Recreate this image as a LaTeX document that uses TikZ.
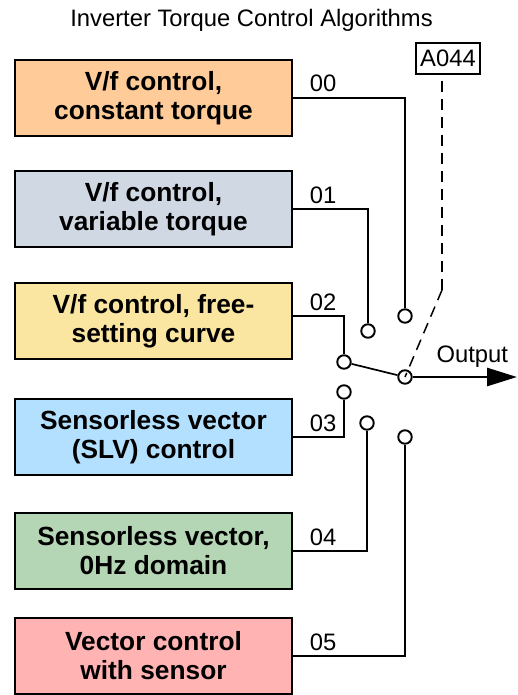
\documentclass[tikz,border=0pt]{standalone}
\usepackage{fontspec}
\setmainfont{Liberation Sans}
\usepackage{tikz}
\usetikzlibrary{arrows.meta,positioning,calc}
\definecolor{AlgOrange}{HTML}{FFCC99}
\definecolor{AlgSlate}{HTML}{D0D8E4}
\definecolor{AlgYellow}{HTML}{FAE6A0}
\definecolor{AlgSky}{HTML}{B3E0FF}
\definecolor{AlgGreen}{HTML}{B4D6B4}
\definecolor{AlgPink}{HTML}{FFB3B3}
\tikzset{
  algbox/.style={draw,line width=2.8pt,minimum width=277pt,minimum height=76pt,
    inner sep=0pt,align=center,font=\bfseries\fontsize{26.3}{29}\selectfont},
  wire/.style={line width=2.8pt},
  thinwire/.style={line width=1.7pt},
  contact/.style={circle,draw,line width=1.9pt,fill=white,minimum size=13.5pt,inner sep=0pt},
  code/.style={anchor=base west},
}

\begin{document}
\begin{tikzpicture}[x=1pt,y=-1pt,font=\fontsize{23.8}{27}\selectfont]
  \useasboundingbox (0,0) rectangle (517,695);
  \node[anchor=base] (title) at (251.5,27) {Inverter Torque Control Algorithms};
  % algorithm boxes
  \node[algbox,fill=AlgOrange] (b0) at (153.5,98)  {V/f control,\\constant torque};
  \node[algbox,fill=AlgSlate]  (b1) at (153.5,209) {V/f control,\\variable torque};
  \node[algbox,fill=AlgYellow] (b2) at (153.5,321) {V/f control, free-\\setting curve};
  \node[algbox,fill=AlgSky]    (b3) at (153.5,437) {Sensorless vector\\(SLV) control};
  \node[algbox,fill=AlgGreen]  (b4) at (153.5,551) {Sensorless vector,\\0Hz domain};
  \node[algbox,fill=AlgPink]   (b5) at (153.5,656) {Vector control\\with sensor};
  % switch contacts
  \node[contact] (c0) at (405,316) {};
  \node[contact] (c1) at (368,331) {};
  \node[contact] (c2) at (344,362) {};
  \node[contact] (c3) at (344,392) {};
  \node[contact] (c4) at (367,423) {};
  \node[contact] (c5) at (405,437) {};
  \node[contact] (cout) at (405,377) {};
  % wiring
  \draw[wire] (b0.east) -| (c0);
  \draw[wire] (b1.east) -| (c1);
  \draw[wire] ([yshift=5pt]b2.east) -| (c2);
  \draw[wire] (b3.east) -| (c3);
  \draw[wire] (b4.east) -| (c4);
  \draw[wire] (b5.east) -| (c5);
  \node[code] (n0) at ([xshift=13pt,yshift=6pt]b0.east) {00};
  \node[code] (n1) at ([xshift=13pt,yshift=6pt]b1.east) {01};
  \node[code] (n2) at ([xshift=13pt,yshift=11pt]b2.east) {02};
  \node[code] (n3) at ([xshift=13pt,yshift=6pt]b3.east) {03};
  \node[code] (n4) at ([xshift=13pt,yshift=6pt]b4.east) {04};
  \node[code] (n5) at ([xshift=13pt,yshift=6pt]b5.east) {05};
  \draw[thinwire] (c2) -- (cout);
  % output
  \coordinate (out) at (517,377);
  \draw[wire,-{Triangle[length=30pt,width=18pt]}] (cout) -- (out);
  \node[code] (outlbl) at (433,362) {Output};
  % parameter selector
  \node[draw,line width=1.5pt,minimum width=64pt,minimum height=31pt,inner sep=0pt] (sel) at (448,58.5) {A044};
  \coordinate (bend) at (442,290);
  \draw[line width=2.8pt,dash pattern=on 11pt off 7pt] ([yshift=-6pt]sel.south -| bend) -- (bend);
  \draw[line width=1.5pt,dash pattern=on 11pt off 7pt] (bend) -- (cout.center);
\end{tikzpicture}
\end{document}
